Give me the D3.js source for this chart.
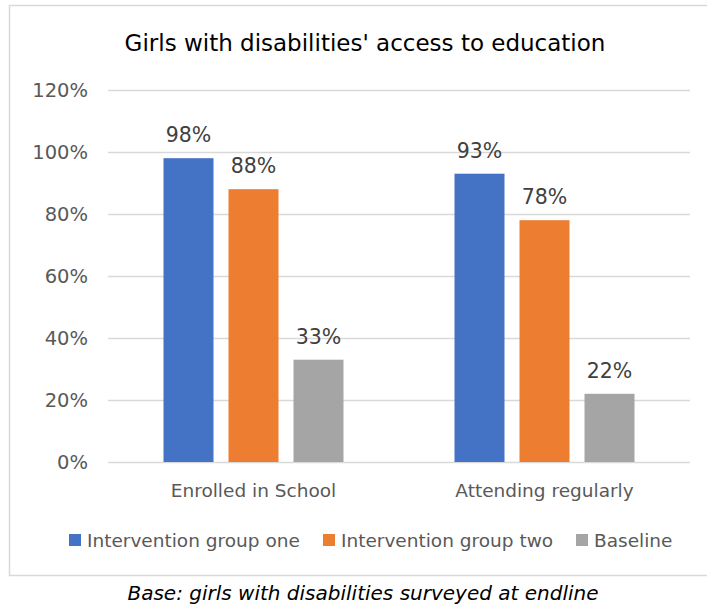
<!DOCTYPE html>
<html>
<head>
<meta charset="utf-8">
<script src="https://cdn.jsdelivr.net/npm/d3@7"></script>
<style>
  body { margin: 0; background: #fff; }
  text { font-family: "DejaVu Sans", sans-serif; }
</style>
</head>
<body>
<div id="chart"></div>
<script>
// data
var categories = ["Enrolled in School", "Attending regularly"];
var seriesNames = ["Intervention group one", "Intervention group two", "Baseline"];
var groupOne = [0.98, 0.93];
var groupTwo = [0.88, 0.78];
var baseline = [0.33, 0.22];
var yTicks = [0, 0.2, 0.4, 0.6, 0.8, 1.0, 1.2];

var colors = ["#4472C4", "#ED7D31", "#A5A5A5"];
var seriesValues = [groupOne, groupTwo, baseline];

var svgWidth = 707, svgHeight = 605;
var plot = { left: 108, right: 690, top: 90, bottom: 462 };

var svg = d3.select("#chart").append("svg")
  .attr("width", svgWidth)
  .attr("height", svgHeight);

// chart border (right edge runs off the page)
svg.append("rect")
  .attr("x", 9.5).attr("y", 5.5)
  .attr("width", 720).attr("height", 570)
  .attr("fill", "none")
  .attr("stroke", "#D9D9D9")
  .attr("stroke-width", 1.5);

svg.append("text")
  .attr("x", 365).attr("y", 51)
  .attr("text-anchor", "middle")
  .attr("font-size", "23px")
  .attr("fill", "#000")
  .text("Girls with disabilities' access to education");

var y = d3.scaleLinear().domain([0, 1.2]).range([plot.bottom, plot.top]);

var x0 = d3.scaleBand().domain(categories).range([plot.left, plot.right]);
var x1 = d3.scaleBand().domain(seriesNames).range([0, 180]).paddingInner(15 / 65);

// gridlines + y labels
var yAxis = svg.append("g")
  .attr("transform", "translate(" + plot.left + ",0)")
  .call(d3.axisLeft(y).tickValues(yTicks).tickFormat(d3.format(".0%"))
    .tickSize(-(plot.right - plot.left)).tickPadding(20));
yAxis.select(".domain").remove();
yAxis.selectAll("line").attr("stroke", "#D9D9D9").attr("stroke-width", 1.5);
yAxis.selectAll("text")
  .attr("font-size", "19.5px")
  .attr("fill", "#595959")
  .style("font-family", "DejaVu Sans");

// bars
var rows = [];
categories.forEach(function(c, i) {
  seriesNames.forEach(function(s, j) {
    rows.push({ cat: c, series: s, value: seriesValues[j][i], color: colors[j] });
  });
});

var groups = svg.selectAll(".grp")
  .data(categories)
  .enter().append("g")
  .attr("class", "grp")
  .attr("transform", function(d) {
    return "translate(" + (x0(d) + (x0.bandwidth() - 180) / 2) + ",0)";
  });

groups.selectAll("rect")
  .data(function(c) { return rows.filter(function(r) { return r.cat === c; }); })
  .enter().append("rect")
  .attr("x", function(d) { return x1(d.series); })
  .attr("width", x1.bandwidth())
  .attr("y", function(d) { return y(d.value); })
  .attr("height", function(d) { return plot.bottom - y(d.value); })
  .attr("fill", function(d) { return d.color; });

groups.selectAll(".val")
  .data(function(c) { return rows.filter(function(r) { return r.cat === c; }); })
  .enter().append("text")
  .attr("class", "val")
  .attr("x", function(d) { return x1(d.series) + x1.bandwidth() / 2; })
  .attr("y", function(d) { return y(d.value) - 16; })
  .attr("text-anchor", "middle")
  .attr("font-size", "20.5px")
  .attr("fill", "#404040")
  .text(function(d) { return Math.round(d.value * 100) + "%"; });

// category labels
svg.selectAll(".cat")
  .data(categories)
  .enter().append("text")
  .attr("class", "cat")
  .attr("x", function(d) { return x0(d) + x0.bandwidth() / 2; })
  .attr("y", 497)
  .attr("text-anchor", "middle")
  .attr("font-size", "18.5px")
  .attr("fill", "#595959")
  .text(function(d) { return d; });

// legend
var legendX = [69, 323, 576];
var legend = svg.selectAll(".leg")
  .data(seriesNames)
  .enter().append("g")
  .attr("class", "leg")
  .attr("transform", function(d, i) { return "translate(" + legendX[i] + ",534)"; });
legend.append("rect")
  .attr("width", 12).attr("height", 12)
  .attr("fill", function(d, i) { return colors[i]; });
legend.append("text")
  .attr("x", 18).attr("y", 13)
  .attr("font-size", "18.5px")
  .attr("fill", "#595959")
  .text(function(d) { return d; });

// caption
svg.append("text")
  .attr("x", 363).attr("y", 600)
  .attr("text-anchor", "middle")
  .attr("font-size", "20px")
  .attr("font-style", "italic")
  .attr("fill", "#000")
  .text("Base: girls with disabilities surveyed at endline");
</script>
</body>
</html>
